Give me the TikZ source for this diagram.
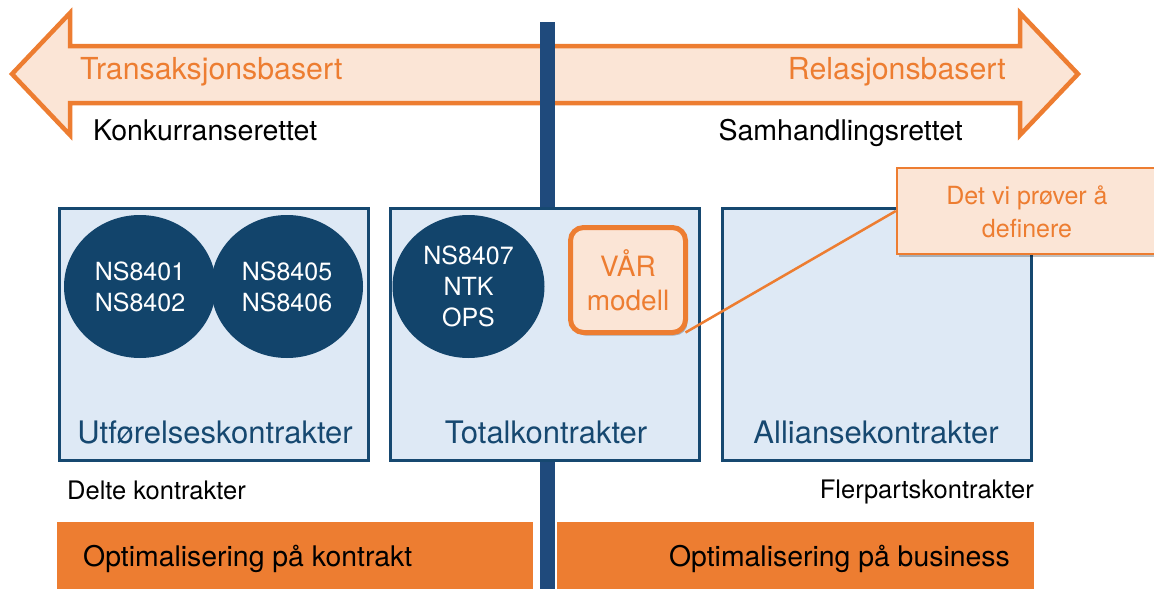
\documentclass[tikz,border=0pt]{standalone}
\usepackage{fontspec}
\setmainfont{TeX Gyre Heros}
\usetikzlibrary{shadows,shapes.geometric}
\definecolor{org}{HTML}{ED7D31}
\definecolor{peach}{HTML}{FBE5D6}
\definecolor{barblue}{HTML}{1F4A7C}
\definecolor{boxblue}{HTML}{164870}
\definecolor{circblue}{HTML}{12446B}
\definecolor{boxfill}{HTML}{DEE9F5}
\begin{document}
\begin{tikzpicture}[x=1pt,y=-1pt,
  contract/.style={draw=boxblue, line width=3pt, fill=boxfill, minimum width=309pt, minimum height=252pt, inner sep=0pt},
  std/.style={ellipse, fill=circblue, minimum width=152pt, minimum height=143pt, inner sep=0pt, text=white, align=center, font=\fontsize{25}{31}\selectfont},
  plain/.style={inner sep=0pt},
  boxlabel/.style={plain, anchor=base, text=boxblue, font=\fontsize{31}{36}\selectfont},
  optbar/.style={fill=org, minimum width=476pt, minimum height=67pt, inner sep=0pt, anchor=north west},
  shade/.style={drop shadow={shadow xshift=2pt, shadow yshift=-3pt, opacity=0.25, fill=black}}
]
\useasboundingbox (0,0) rectangle (1154,589);

% double arrow
\draw[line width=4.5pt, draw=org, fill=peach, line join=miter]
  (12,74) -- (70,13) -- (70,46) -- (1020,46) -- (1020,13) -- (1078,74)
  -- (1020,135) -- (1020,103) -- (70,103) -- (70,135) -- cycle;
\node[plain, text=org, font=\fontsize{30.3}{36}\selectfont, anchor=base west] (trans) at (80,79) {Transaksjonsbasert};
\node[plain, text=org, font=\fontsize{30.3}{36}\selectfont, anchor=base east] (rel) at (1006,79) {Relasjonsbasert};

% vertical axis
\node[fill=barblue, minimum width=15pt, minimum height=567pt, inner sep=0pt, anchor=north] (axis) at (547,22) {};

\node[plain, font=\fontsize{28.5}{34}\selectfont, anchor=base west] (konk) at (93,140) {Konkurranserettet};
\node[plain, font=\fontsize{28.5}{34}\selectfont, anchor=base east] (samh) at (963,140) {Samhandlingsrettet};

% contract boxes
\node[contract] (box1) at (214,334.5) {};
\node[contract] (box2) at (545,334.5) {};
\node[contract] (box3) at (877,334.5) {};

\node[std] (c1) at (140,286.5) {NS8401\\NS8402};
\node[std] (c2) at (287,286.5) {NS8405\\NS8406};
\node[std] (c3) at (468.5,286.5) {NS8407\\NTK\\OPS};

\node[boxlabel] (l1) at (215,443) {Utførelseskontrakter};
\node[boxlabel] (l2) at (546,443) {Totalkontrakter};
\node[boxlabel] (l3) at (876,443) {Alliansekontrakter};

% our model
\node[draw=org, line width=5pt, fill=peach, rounded corners=13pt, minimum width=115pt, minimum height=105pt, inner sep=0pt, outer sep=0pt, text=org, align=center, font=\fontsize{28}{34}\selectfont, shade] (vaar) at (628,280) {VÅR\\modell};

% callout
\node[draw=org, line width=2.5pt, fill=peach, minimum width=262pt, minimum height=86pt, inner sep=0pt, shade] (callout) at (1028,211) {};
\node[text=org, align=center, font=\fontsize{25}{33}\selectfont, inner sep=0pt] (calltext) at (1027,212) {Det vi prøver å\\definere};
\draw[org, line width=2.5pt] (vaar.south east) -- (callout.west);

% lower labels
\node[plain, font=\fontsize{25.5}{30}\selectfont, anchor=base west] (delte) at (67,499) {Delte kontrakter};
\node[plain, font=\fontsize{25.5}{30}\selectfont, anchor=base east] (fler) at (1034,498) {Flerpartskontrakter};

% optimisation bars
\node[optbar] (optL) at (57,522) {};
\node[optbar, minimum width=477pt] (optR) at (557,522) {};
\node[plain, font=\fontsize{28.4}{34}\selectfont, anchor=base west] (optLt) at (83,566) {Optimalisering på kontrakt};
\node[plain, font=\fontsize{28.4}{34}\selectfont, anchor=base east] (optRt) at (1010,566) {Optimalisering på business};
\end{tikzpicture}
\end{document}
